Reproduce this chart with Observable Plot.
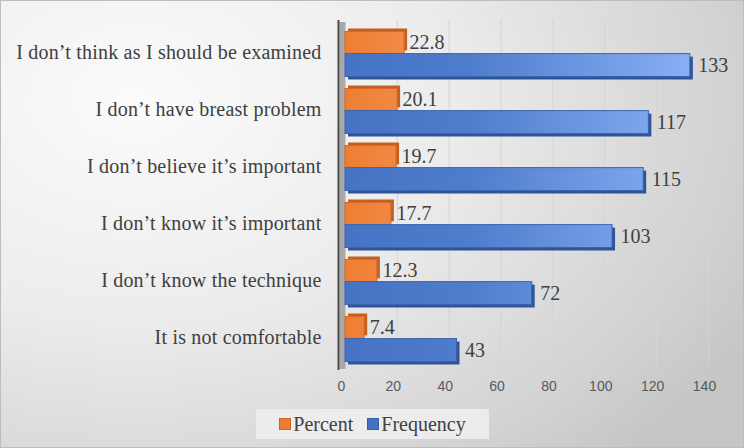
<!DOCTYPE html>
<html>
<head>
<meta charset="utf-8">
<script src="https://cdn.jsdelivr.net/npm/d3@7"></script>
<script src="https://cdn.jsdelivr.net/npm/@observablehq/plot@0.6"></script>
<style>
  html, body { margin: 0; padding: 0; }
  #frame {
    width: 744px; height: 448px; box-sizing: border-box;
    border: 1px solid #bdbdbd;
    background: radial-gradient(ellipse 95% 110% at 18% 22%, #fbfbfb 0%, #ececec 45%, #d2d2d2 85%, #c6c6c6 100%);
    position: relative; overflow: hidden;
  }
  #chart svg { display: block; background: transparent; }
  #legend {
    position: absolute; left: 255px; top: 408px; width: 233px; height: 30px;
    background: rgba(238,238,238,0.9);
    display: flex; align-items: center; justify-content: center; gap: 14px;
    font-family: "Liberation Serif", "Times New Roman", serif; font-size: 20px; color: #404040;
  }
  .item { display: flex; align-items: center; gap: 2px; }
  .sw { width: 10px; height: 10px; display: inline-block; }
</style>
</head>
<body>
<div id="frame">
  <div id="chart"></div>
  <div id="legend"></div>
</div>
<script>
const categories = [
  "I don’t think as I should be examined",
  "I don’t have breast problem",
  "I don’t believe it’s important",
  "I don’t know it’s important",
  "I don’t know the technique",
  "It is not comfortable"
];
const percent = [22.8, 20.1, 19.7, 17.7, 12.3, 7.4];
const frequency = [133, 117, 115, 103, 72, 43];
const xTicks = [0, 20, 40, 60, 80, 100, 120, 140];
const seriesNames = ["Percent", "Frequency"];
const seriesColors = ["#ED7D31", "#4472C4"];

const pData = categories.map((c, i) => ({category: c, value: percent[i]}));
const fData = categories.map((c, i) => ({category: c, value: frequency[i]}));

const serif = "'Liberation Serif', 'Times New Roman', serif";

const chart = Plot.plot({
  width: 742,
  height: 399,
  marginLeft: 344,
  marginRight: 35,
  marginTop: 23,
  marginBottom: 32,
  style: {background: "transparent", overflow: "visible"},
  x: {domain: [0, 140], ticks: xTicks},
  y: {domain: categories, padding: 0},
  marks: [
    // back-wall grid
    Plot.gridX(xTicks.filter(d => d > 0), {stroke: "#d4d4d4", strokeOpacity: 1, strokeWidth: 1, insetTop: -4, insetBottom: 2}),
    // side wall
    Plot.ruleX([0], {stroke: "#a9a9a9", strokeWidth: 6, dx: -3, insetTop: -2, insetBottom: -1}),
    Plot.ruleX([0], {stroke: "#4a4a4a", strokeWidth: 2, dx: -7, insetTop: -4, insetBottom: -2}),
    // depth faces
    Plot.barX(pData, {y: "category", x: "value", fill: "#c4611f", insetTop: 6.5, insetBottom: 28.6, dx: 3, dy: -3}),
    Plot.barX(fData, {y: "category", x: "value", fill: "#2f5597", insetTop: 28.6, insetBottom: 5.5, dx: 3, dy: 3}),
    // front faces
    Plot.barX(pData, {y: "category", x: "value", fill: "url(#gradP)", stroke: "#d5692a", strokeWidth: 1, insetTop: 6.5, insetBottom: 28.6}),
    Plot.barX(fData, {y: "category", x: "value", fill: "url(#gradF)", stroke: "#3a64b0", strokeWidth: 1, insetTop: 28.6, insetBottom: 5.5}),
    // value labels
    Plot.text(pData, {y: "category", x: "value", text: d => d.value.toFixed(1), dx: 5, dy: -11, textAnchor: "start", fontFamily: serif, fontSize: 20, fill: "#404040"}),
    Plot.text(fData, {y: "category", x: "value", text: d => String(d.value), dx: 8, dy: 12, textAnchor: "start", fontFamily: serif, fontSize: 20, fill: "#404040"}),
    Plot.axisY({tickSize: 0, tickPadding: 24, fontSize: 20, fontFamily: serif, fill: "#404040", label: null, dy: -1}),
    Plot.axisX({ticks: xTicks, tickSize: 0, tickPadding: 13, fontSize: 14, fontFamily: "'Liberation Sans', Arial, sans-serif", fill: "#595959", label: null, dx: -4})
  ]
});
document.getElementById("chart").appendChild(chart);
d3.select(chart).selectAll("[aria-label='y-axis tick label'] text").style("letter-spacing", "0.2px");

// gradients along the value axis
const xs = chart.scale("x");
const x0 = xs.apply(0), x1 = xs.apply(140);
const svg = d3.select(chart);
const defs = svg.insert("defs", ":first-child");
const gp = defs.append("linearGradient").attr("id", "gradP").attr("gradientUnits", "userSpaceOnUse")
  .attr("x1", x0).attr("x2", x0 + 0.45 * (x1 - x0)).attr("y1", 0).attr("y2", 0);
gp.append("stop").attr("offset", "0%").attr("stop-color", "#EE7E33");
gp.append("stop").attr("offset", "100%").attr("stop-color", "#F6A168");
const gf = defs.append("linearGradient").attr("id", "gradF").attr("gradientUnits", "userSpaceOnUse")
  .attr("x1", x0).attr("x2", x1).attr("y1", 0).attr("y2", 0);
gf.append("stop").attr("offset", "0%").attr("stop-color", "#4673C4");
gf.append("stop").attr("offset", "35%").attr("stop-color", "#4F7DCD");
gf.append("stop").attr("offset", "100%").attr("stop-color", "#8DB3F7");

// legend
const legend = d3.select("#legend");
seriesNames.forEach((name, i) => {
  const it = legend.append("div").attr("class", "item");
  it.append("span").attr("class", "sw").style("background", seriesColors[i])
    .style("border", "1px solid " + d3.color(seriesColors[i]).darker(0.5));
  it.append("span").text(name);
});
</script>
</body>
</html>
